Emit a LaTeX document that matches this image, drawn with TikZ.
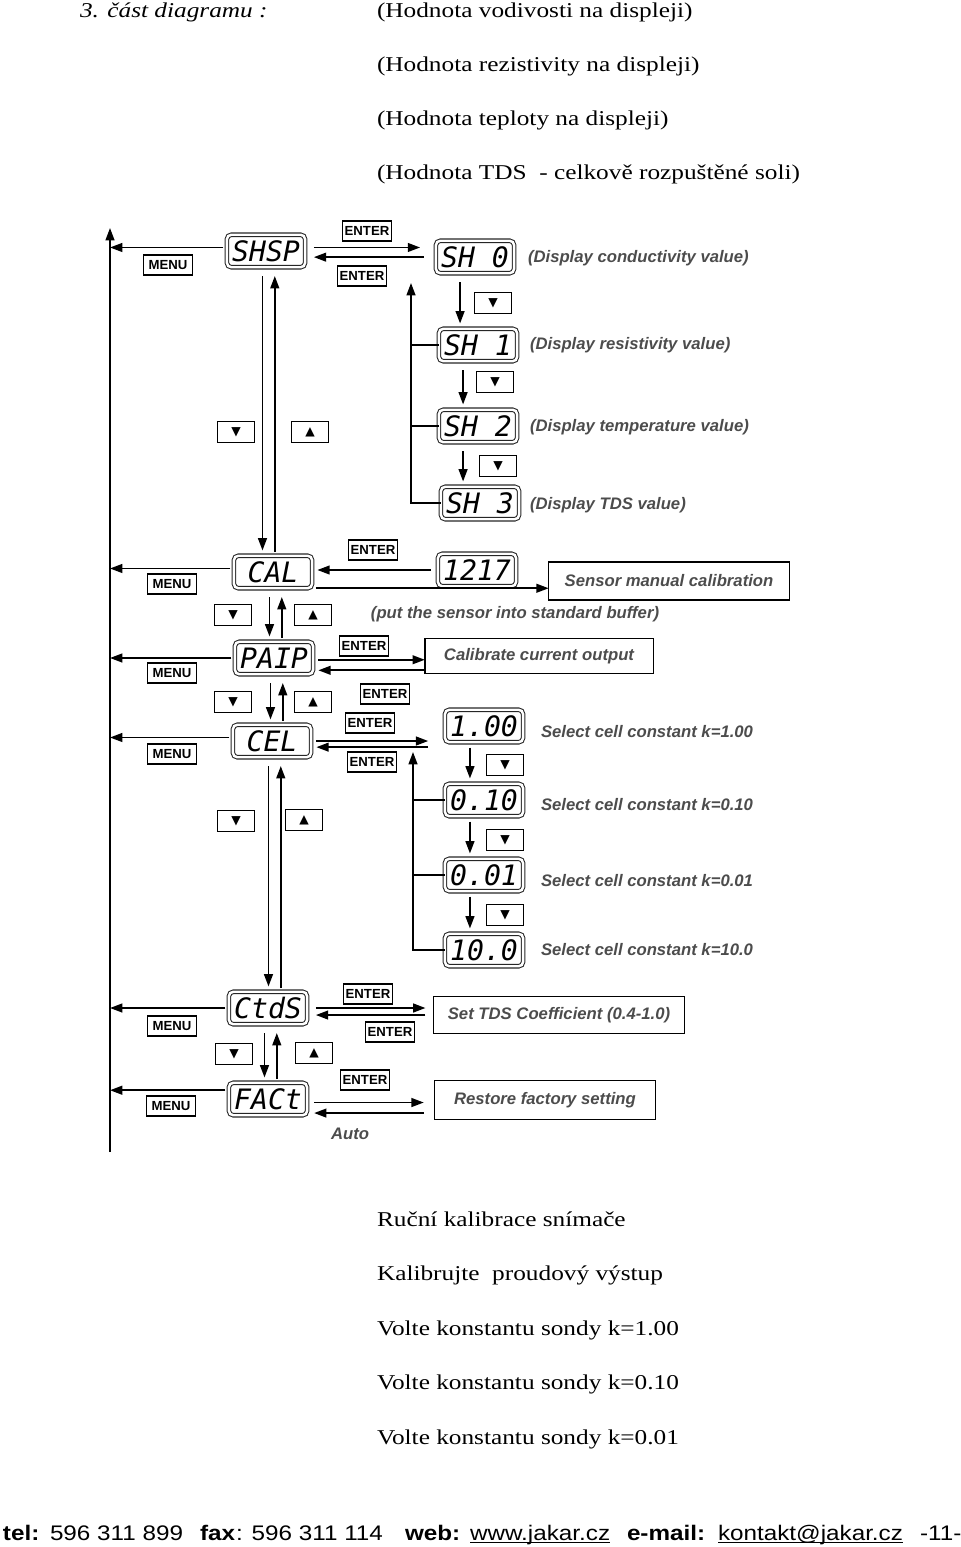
\documentclass[tikz,border=0pt]{standalone}
\usepackage{fontspec}
\usepackage{graphicx}
\setmainfont{Liberation Serif}
\setsansfont{Liberation Sans}
\newfontfamily\lcdfont{DejaVu Sans Mono}
\newfontfamily\symfont{DejaVu Sans}
\usetikzlibrary{arrows.meta}
\newcommand{\wider}[2][1.2]{\scalebox{#1}[1]{#2}}
\tikzset{
  every node/.style={inner sep=0, outer sep=0},
  lcd/.style={draw=black!85, double, double distance=1.4pt, line width=.6pt, rounded corners=2.5pt,
    minimum width=44.5pt, minimum height=18.5pt, font=\lcdfont\slshape\fontsize{16}{16}\selectfont},
  keybox/.style={draw, line width=.8pt, minimum width=28pt, minimum height=11.3pt,
    font=\sffamily\bfseries\fontsize{7.5}{7.5}\selectfont},
  arrowbox/.style={draw, line width=.8pt, minimum width=21pt, minimum height=12pt,
    font=\symfont\fontsize{7}{7}\selectfont},
  infobox/.style={draw, line width=.8pt, font=\sffamily\bfseries\itshape\fontsize{9.5}{9.5}\selectfont, text=black!70},
  note/.style={font=\sffamily\bfseries\itshape\fontsize{9.5}{9.5}\selectfont, text=black!70},
  flow/.style={line width=1pt, -{Triangle[length=7pt,width=5pt]}},
  plain/.style={line width=1pt},
  czline/.style={anchor=base west, font=\fontsize{12}{12}\selectfont},
  footer/.style={anchor=base west, font=\sffamily\fontsize{12}{12}\selectfont},
}

\begin{document}
\begin{tikzpicture}[x=0.02cm, y=-0.02cm]
\useasboundingbox (0,0) rectangle (960,1547);

\node[czline] (title) at (80,18) {\itshape\wider{3. část diagramu :}};
\node[czline] (h1) at (377,18) {\wider{(Hodnota vodivosti na displeji)}};
\node[czline] (h2) at (377,72) {\wider{(Hodnota rezistivity na displeji)}};
\node[czline] (h3) at (377,126) {\wider{(Hodnota teploty na displeji)}};
\node[czline] (h4) at (377,180) {\wider{(Hodnota TDS~ - celkově rozpuštěné soli)}};

\foreach \n/\x/\y/\t in {shsp/266/251/SHSP, sh0/475/257/SH~0, sh1/478/345/SH~1, sh2/478/426/SH~2,
  sh3/480/503/SH~3, cal/273/572/CAL, r1217/477/570/1217, paip/274/658/PAIP, cel/272/741/CEL,
  k100/484/726/1.00, k010/484/800/0.10, k001/484/875/0.01, k1000/484/950/10.0,
  ctds/268/1008/CtdS, fact/268/1099/FACt}
{
\node[lcd] (\n) at (\x,\y) {\t};
}

\foreach \i/\x/\y in {1/168/265, 2/172/584, 3/172/673, 4/172/754, 5/172/1026, 6/171/1106}
{
\node[keybox] (menu\i) at (\x,\y) {MENU};
}
\foreach \i/\x/\y in {1/367/231, 2/362/276, 3/373/550, 4/364/646, 5/385/694, 6/370/723,
  7/372/762, 8/368/994, 9/390/1032, 10/365/1080}
{
\node[keybox] (enter\i) at (\x,\y) {ENTER};
}
\foreach \i/\x/\y in {1/236/432, 2/233/615, 3/233/702, 4/236/821, 5/234/1054, 6/493/303,
  7/495/382, 8/498/466, 9/505/765, 10/505/840, 11/505/915}
{
\node[arrowbox] (down\i) at (\x,\y) {▼};
}
\foreach \i/\x/\y in {1/310/432, 2/313/615, 3/313/702, 4/304/820, 5/314/1053}
{
\node[arrowbox] (up\i) at (\x,\y) {▲};
}

\node[infobox, minimum width=137pt, minimum height=21.5pt] (sensor) at (669,581) {Sensor manual calibration};
\node[infobox, minimum width=130pt, minimum height=20pt] (calib) at (539,656) {Calibrate current output};
\node[infobox, minimum width=143pt, minimum height=21pt] (settds) at (559,1015) {Set TDS Coefficient (0.4-1.0)};
\node[infobox, minimum width=126pt, minimum height=22pt] (restore) at (545,1100) {Restore factory setting};

\node[note, anchor=west] (n0) at (528,258) {(Display conductivity value)};
\node[note, anchor=west] (n1) at (530,345) {(Display resistivity value)};
\node[note, anchor=west] (n2) at (530,427) {(Display temperature value)};
\node[note, anchor=west] (n3) at (530,505) {(Display TDS value)};
\node[note] (buffer) at (515,614) {(put the sensor into standard buffer)};
\node[note, anchor=west] (c0) at (541,732) {Select cell constant k=1.00};
\node[note, anchor=west] (c1) at (541,805) {Select cell constant k=0.10};
\node[note, anchor=west] (c2) at (541,881) {Select cell constant k=0.01};
\node[note, anchor=west] (c3) at (541,950) {Select cell constant k=10.0};
\node[note] (auto) at (350,1134) {Auto};

\coordinate (menutop) at (110,228);
\coordinate (menubot) at (110,1152);
\draw[flow] (menubot) -- (menutop);
\foreach \n/\d in {shsp/2, cal/2, paip/0, cel/2, ctds/0, fact/5}
{
\draw[flow, shorten <=2pt] ([yshift=\d pt]\n.west) -- ([yshift=\d pt]\n.west -| menutop);
}

\foreach \a/\b in {shsp/cal, cal/paip, paip/cel, cel/ctds, ctds/fact}
{
\draw[flow, shorten <=5pt, shorten >=3pt] ([xshift=-2pt]\a.south) -- ([xshift=-2pt]\a.south |- \b.north);
\draw[flow, shorten <=2pt, shorten >=5pt] ([xshift=5pt]\a.south |- \b.north) -- ([xshift=5pt]\a.south);
}

\draw[flow, shorten <=5pt, shorten >=9pt] ([yshift=2pt]shsp.east) -- ([yshift=2pt]shsp.east -| sh0.west);
\draw[flow, shorten <=7pt, shorten >=5pt] ([yshift=-3.5pt]shsp.east -| sh0.west) -- ([yshift=-3.5pt]shsp.east);
\foreach \a/\b in {sh0/sh1, sh1/sh2, sh2/sh3}
{
\draw[flow, shorten <=5pt, shorten >=3pt] ([xshift=-8.5pt]\a.south) -- ([xshift=-8.5pt]\a.south |- \b.north);
}
\coordinate (shret) at (411,283);
\draw[flow] (sh3.west) -- (sh3.west -| shret) -- (shret);
\foreach \n in {sh1, sh2}
{
\draw[plain] (\n.west) -- (\n.west -| shret);
}

\draw[flow, shorten <=4pt, shorten >=3pt] (r1217.west) -- (r1217.west -| cal.east);
\draw[flow, shorten <=2pt] (cal.south east) -- (cal.south east -| sensor.west);

\draw[flow, shorten <=3pt] ([yshift=-1pt]paip.east) -- ([yshift=-1pt]paip.east -| calib.west);
\draw[flow, shorten >=3pt] ([yshift=-7pt]paip.east -| calib.west) -- ([yshift=-7pt]paip.east);

\draw[flow, shorten <=3pt, shorten >=9.5pt] (cel.east) -- (cel.east -| k100.west);
\draw[flow, shorten <=9.5pt, shorten >=3pt] ([yshift=-3.5pt]cel.east -| k100.west) -- ([yshift=-3.5pt]cel.east);
\foreach \a/\b in {k100/k010, k010/k001, k001/k1000}
{
\draw[flow, shorten <=3pt, shorten >=3pt] ([xshift=-8pt]\a.south) -- ([xshift=-8pt]\a.south |- \b.north);
}
\coordinate (kret) at (413,752);
\draw[flow] (k1000.west) -- (k1000.west -| kret) -- (kret);
\foreach \n in {k010, k001}
{
\draw[plain] (\n.west) -- (\n.west -| kret);
}

\draw[flow, shorten <=5pt, shorten >=4.5pt] (ctds.east) -- (ctds.east -| settds.west);
\draw[flow, shorten <=4.5pt, shorten >=5pt] ([yshift=-4pt]ctds.east -| settds.west) -- ([yshift=-4pt]ctds.east);
\draw[flow, shorten <=4pt, shorten >=6pt] ([yshift=-2pt]fact.east) -- ([yshift=-2pt]fact.east -| restore.west);
\draw[flow, shorten <=6pt, shorten >=4pt] ([yshift=-8pt]fact.east -| restore.west) -- ([yshift=-8pt]fact.east);

\node[czline] (b1) at (377,1226) {\wider{Ruční kalibrace snímače}};
\node[czline] (b2) at (377,1280.5) {\wider{Kalibrujte~ proudový výstup}};
\node[czline] (b3) at (377,1335) {\wider{Volte konstantu sondy k=1.00}};
\node[czline] (b4) at (377,1389.5) {\wider{Volte konstantu sondy k=0.10}};
\node[czline] (b5) at (377,1444) {\wider{Volte konstantu sondy k=0.01}};

\node[footer] (tel) at (3,1540) {\bfseries\wider[1.15]{tel:}};
\node[footer] (telno) at (50,1540) {\wider[1.15]{596 311 899}};
\node[footer] (fax) at (200,1540) {\bfseries\wider[1.15]{fax}};
\node[footer] (faxno) at (236,1540) {\wider[1.15]{: 596 311 114}};
\node[footer] (web) at (405,1540) {\bfseries\wider[1.15]{web:}};
\node[footer] (url) at (470,1540) {\wider[1.15]{www.jakar.cz}};
\node[footer] (mail) at (627,1540) {\bfseries\wider[1.15]{e-mail:}};
\node[footer] (addr) at (718,1540) {\wider[1.15]{kontakt@jakar.cz}};
\node[footer] (page) at (920,1540) {\wider[1.15]{-11-}};
\draw[line width=.6pt] ([yshift=-1.5pt]url.base west) -- ([yshift=-1.5pt]url.base east);
\draw[line width=.6pt] ([yshift=-1.5pt]addr.base west) -- ([yshift=-1.5pt]addr.base east);
\end{tikzpicture}
\end{document}
